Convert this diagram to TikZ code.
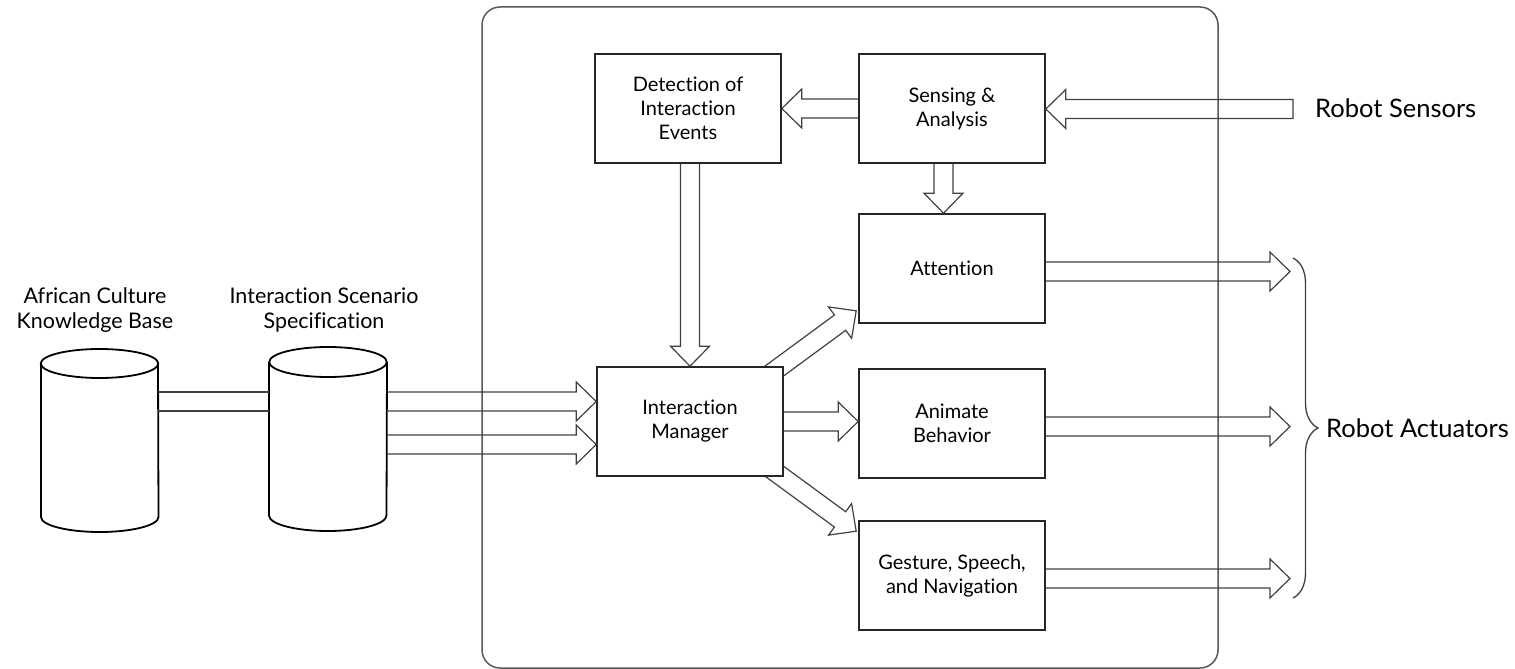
\documentclass[tikz,border=0pt]{standalone}
\usepackage{fontspec}
\setmainfont{Lato}[Ligatures={NoCommon}]
\usetikzlibrary{calc,decorations.pathreplacing}

% Hollow block arrow from #2 to #3; #4 closes the tail when needed
\newcommand{\blockarrow}[4][]{%
  \coordinate (ba-s) at (#2);
  \coordinate (ba-e) at (#3);
  \coordinate (ba-b) at ($(ba-e)!20pt!(ba-s)$);
  \draw[arrowline,#1] ($(ba-s)!9.5pt!90:(ba-e)$) -- ($(ba-b)!9.5pt!90:(ba-e)$)
    -- ($(ba-b)!19.5pt!90:(ba-e)$) -- (ba-e) -- ($(ba-b)!19.5pt!-90:(ba-e)$)
    -- ($(ba-b)!9.5pt!-90:(ba-e)$) -- ($(ba-s)!9.5pt!-90:(ba-e)$) #4;
}

\tikzset{
  box/.style={draw=black!85, line width=1.6pt, fill=white, minimum width=186pt,
    minimum height=109pt, inner sep=0pt, align=center,
    font=\fontsize{20}{24}\selectfont},
  arrowline/.style={draw=black!75, line width=1.2pt, line join=miter},
  cylline/.style={draw=black, line width=1.8pt, fill=white},
  cylspace/.style={inner sep=0pt, outer sep=0pt},
  frame/.style={draw=black!65, line width=1.5pt, rounded corners=18pt,
    inner sep=0pt},
  cyllabel/.style={align=center, inner sep=0pt,
    font=\fontsize{21.5}{25}\selectfont},
  sidelabel/.style={anchor=west, inner sep=0pt,
    font=\fontsize{25.5}{30}\selectfont},
  bracestyle/.style={draw=black!75, line width=1.3pt},
}

\begin{document}
\begin{tikzpicture}[x=1pt, y=-1pt]
\useasboundingbox (0,0) rectangle (1515,669);

% system frame
\node[frame, minimum width=736pt, minimum height=661pt] (core) at (850,337.5) {};

% module box centres
\path (688,108.5) coordinate (detect-c) (952,108.5) coordinate (sense-c)
      (952,268.5) coordinate (attn-c) (952,423.5) coordinate (anim-c)
      (952,575.5) coordinate (gest-c) (690,421.5) coordinate (im-c);
\node[box, draw=none, fill=none] (im0) at (im-c) {};
\node[box, draw=none, fill=none] (attn0) at (attn-c) {};
\node[box, draw=none, fill=none] (gest0) at (gest-c) {};

% diagonal arrows leave the manager box from its corners
\blockarrow[fill=white]{$(im0.north east)+(-22,14)$}{$(attn0.south west)+(-2,-13)$}{}
\blockarrow[fill=white]{$(im0.south east)+(-21,-14)$}{$(gest0.north west)+(-2,11)$}{}

\node[box] (detect) at (detect-c) {Detection of\\Interaction\\Events};
\node[box] (sense) at (sense-c) {Sensing \&\\Analysis};
\node[box] (attn) at (attn-c) {Attention};
\node[box] (anim) at (anim-c) {Animate\\Behavior};
\node[box] (gest) at (gest-c) {Gesture, Speech,\\and Navigation};
\node[box] (im) at (im-c) {Interaction\\Manager};

% data stores
\node[cylspace, minimum width=117pt, minimum height=183pt] (kb) at (99.5,440.5) {};
\node[cylspace, minimum width=118pt, minimum height=184pt] (spec) at (328,439) {};
\foreach \c/\rt/\rb in {kb/14.5/15, spec/15/15.5} {
  \draw[cylline] ($(\c.north west)+(0,\rt)$) -- ($(\c.south west)+(0,-\rb)$)
    arc[start angle=180, end angle=360, x radius=58.75pt, y radius=\rb pt]
    -- ($(\c.north east)+(0,\rt)$);
  \draw[cylline] ($(\c.north)+(0,\rt)$) ellipse[x radius=58.75pt, y radius=\rt pt];
}
\node[cyllabel] (kblabel) at (95,310) {African Culture\\Knowledge Base};
\node[cyllabel] (speclabel) at (324,310) {Interaction Scenario\\Specification};

% link between the two stores
\path ($(kb.east)+(0,-48.5)$) coordinate (b1) ($(kb.east)+(0,-29.5)$) coordinate (b2);
\draw[arrowline] (b1) -- (b1 -| spec.west) (b2) -- (b2 -| spec.west);

% scenario into the manager
\path ($(im.west)+(0,-20)$) coordinate (in1) ($(im.west)+(0,23)$) coordinate (in2);
\blockarrow{in1 -| spec.east}{in1}{}
\blockarrow{in2 -| spec.east}{in2}{}

% internal flow
\blockarrow{sense.west}{detect.east}{}
\blockarrow{$(sense.south)+(-8.5,0)$}{$(attn.north)+(-8.5,0)$}{}
\blockarrow{im.north |- detect.south}{im.north}{}
\blockarrow{im.east}{im.east -| anim.west}{}

% sensors and actuators
\node[sidelabel] (sensors) at (1315,108) {Robot Sensors};
\coordinate (st) at ($(sensors.west)+(-22,1)$);
\blockarrow{st}{st -| sense.east}{-- cycle}

\coordinate (tipx) at (1290,0);
\path ($(attn.east)+(0,3)$) coordinate (o1) ($(anim.east)+(0,3)$) coordinate (o2)
      ($(gest.east)+(0,3)$) coordinate (o3);
\blockarrow{o1}{o1 -| tipx}{}
\blockarrow{o2}{o2 -| tipx}{}
\blockarrow{o3}{o3 -| tipx}{}

\draw[bracestyle, decorate, decoration={brace, amplitude=25pt, aspect=0.5}]
  (1293,258) coordinate (acttop) -- (1293,598) coordinate (actbot);
\node[sidelabel] (actuators) at (1326,428) {Robot Actuators};
\end{tikzpicture}
\end{document}
